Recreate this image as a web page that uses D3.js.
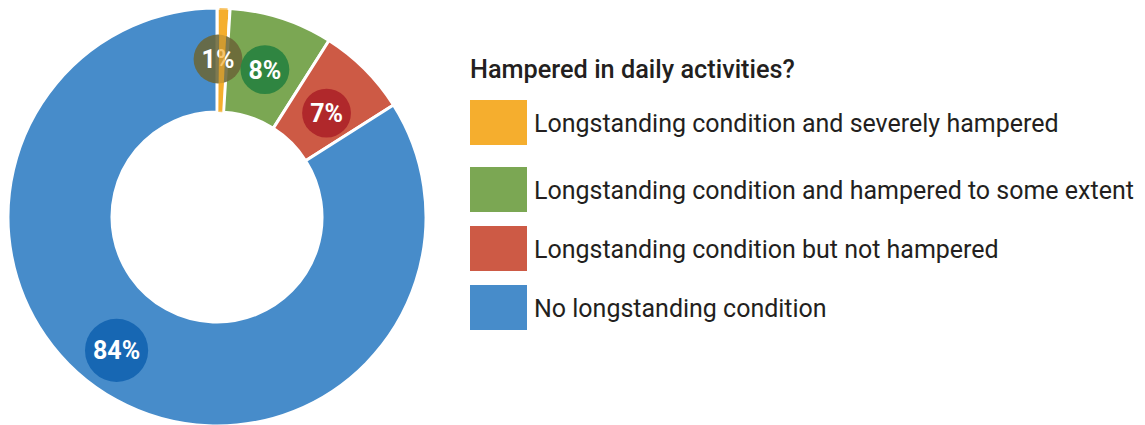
<!DOCTYPE html>
<html>
<head>
<meta charset="utf-8">
<script src="https://cdn.jsdelivr.net/npm/d3@7"></script>
<style>
  html, body { margin: 0; padding: 0; background: #fff; }
  svg { display: block; }
  text { font-family: Roboto, "Open Sans", "DejaVu Sans", sans-serif; }
</style>
</head>
<body>
<svg id="chart" width="1145" height="425"></svg>
<script>
// ---- data ----
const legendTitle = "Hampered in daily activities?";
const categories = [
  "Longstanding condition and severely hampered",
  "Longstanding condition and hampered to some extent",
  "Longstanding condition but not hampered",
  "No longstanding condition"
];
const values = [1, 8, 7, 84];
const valueLabels = ["1%", "8%", "7%", "84%"];
const sliceColors = ["#F5AE2E", "#7BA753", "#CD5A45", "#478CCA"];
const badgeColors = ["#6B6638", "#2F8541", "#B0282B", "#1767B3"];

// ---- layout ----
const cx = 217, cy = 217;
const outerR = 209, innerR = 105;

const svg = d3.select("#chart");
const g = svg.append("g").attr("transform", `translate(${cx},${cy})`);

const pie = d3.pie().sort(null).value(d => d.v);
const data = categories.map((c, i) => ({ c, v: values[i], label: valueLabels[i], i }));
const arcs = pie(data);

const arc = d3.arc().innerRadius(innerR).outerRadius(outerR);

g.selectAll("path.slice")
  .data(arcs)
  .join("path")
  .attr("class", "slice")
  .attr("d", arc)
  .attr("fill", d => sliceColors[d.data.i])
  .attr("stroke", "#fff")
  .attr("stroke-width", 3)
  .attr("stroke-linejoin", "miter");

// badge placement
function badgePos(d) {
  const span = d.endAngle - d.startAngle;
  let frac = 0.5, r = 155;
  if (d.data.v === d3.max(values)) { frac = 0.527; r = 167; }
  else if (d.data.v === d3.min(values)) { frac = 0.1; r = 158; }
  else if (d.index === 2) { frac = 0.56; r = 151; }
  const a = d.startAngle + span * frac;
  return [r * Math.sin(a), -r * Math.cos(a)];
}

const badges = g.selectAll("g.badge")
  .data(arcs)
  .join("g")
  .attr("class", "badge")
  .attr("transform", d => `translate(${badgePos(d)})`);

badges.append("circle")
  .attr("fill", d => badgeColors[d.data.i])
  .attr("fill-opacity", d => d.data.v === d3.min(values) ? 0.88 : 1);

badges.append("text")
  .attr("text-anchor", "middle")
  .attr("dy", "0.36em")
  .attr("fill", "#fff")
  .attr("font-size", 25)
  .attr("font-weight", 700)
  .text(d => d.data.label);

badges.each(function() {
  const t = d3.select(this).select("text");
  const w = t.node().getComputedTextLength();
  d3.select(this).select("circle").attr("r", Math.max(23.5, w / 2 + 8));
});

// re-draw the smallest slice translucently over its badge
const smallest = arcs.filter(d => d.data.v === d3.min(values));
g.selectAll("path.over")
  .data(smallest)
  .join("path")
  .attr("class", "over")
  .attr("d", d3.arc().innerRadius(innerR).outerRadius(outerR)
    .startAngle(d => d.startAngle + 0.012).endAngle(d => d.endAngle - 0.012))
  .attr("fill", d => sliceColors[d.data.i])
  .attr("opacity", 0.7);

// ---- legend ----
const lx = 470, swW = 57, swH = 45;
const legendY = i => i === 0 ? 100 : 167 + (i - 1) * 59;

const title = svg.append("text")
  .attr("fill", "#231F20")
  .attr("font-size", 25)
  .attr("font-weight", 500)
  .text(legendTitle);
const titleFactor = 325 / title.node().getComputedTextLength();
title.attr("transform", `translate(${lx},78) scale(${titleFactor},1)`);

const items = svg.append("g").selectAll("g")
  .data(categories)
  .join("g")
  .attr("transform", (d, i) => `translate(${lx},${legendY(i)})`);

items.append("rect")
  .attr("width", swW)
  .attr("height", swH)
  .attr("fill", (d, i) => sliceColors[i]);

const ltexts = items.append("text")
  .attr("fill", "#231F20")
  .attr("font-size", 26.5)
  .text(d => d);

const lens = ltexts.nodes().map(n => n.getComputedTextLength());
const factor = 600 / d3.max(lens);
ltexts.attr("transform", `translate(64,${swH / 2 + 9.5}) scale(${factor},1)`);
</script>
</body>
</html>
